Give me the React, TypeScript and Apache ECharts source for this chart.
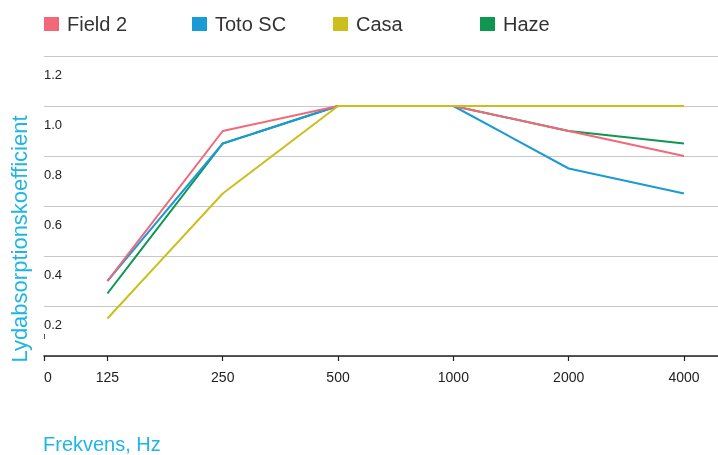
import React, { useEffect, useRef } from "react";
import * as echarts from "echarts";

const categories = ["125", "250", "500", "1000", "2000", "4000"];
const xTickLabels = ["0", "125", "250", "500", "1000", "2000", "4000"];
const yTickValues = [0.2, 0.4, 0.6, 0.8, 1.0, 1.2];

const field2 = [0.3, 0.9, 1.0, 1.0, 0.9, 0.8];
const totoSC = [0.3, 0.85, 1.0, 1.0, 0.75, 0.65];
const casa = [0.15, 0.65, 1.0, 1.0, 1.0, 1.0];
const haze = [0.25, 0.85, 1.0, 1.0, 0.9, 0.85];

const seriesNames = ["Field 2", "Toto SC", "Casa", "Haze"];
const seriesColors = ["#f26878", "#1a9ad6", "#ccbf1c", "#0f9650"];
const seriesValues = [field2, totoSC, casa, haze];
const seriesZ = [4, 3, 5, 2];
const legendLefts = [44, 192, 333, 480];

const FONT = "'Liberation Sans', Arial, Helvetica, sans-serif";
const ZERO_POS = -0.55;

export default function App() {
  const ref = useRef<HTMLDivElement>(null);
  useEffect(() => {
    if (!ref.current) return;
    const chart = echarts.init(ref.current, undefined, { renderer: "svg" });
    const xTickPositions = [ZERO_POS, ...categories.map((_, i) => i)];
    const option: any = {
      animation: false,
      textStyle: { fontFamily: FONT },
      grid: { left: 44, right: 0, top: 56, bottom: 99, containLabel: false },
      legend: seriesNames.map((name, i) => ({
        data: [name],
        left: legendLefts[i],
        top: 14,
        padding: 0,
        icon: "rect",
        itemWidth: 15,
        itemHeight: 14,
        selectedMode: false,
        textStyle: {
          fontFamily: FONT,
          fontSize: 20,
          color: "#333",
          padding: [0, 0, 0, 3],
        },
      })),
      xAxis: {
        type: "value",
        min: ZERO_POS,
        max: 5.295,
        splitLine: { show: false },
        axisLine: { show: true, lineStyle: { color: "#222", width: 1.6 } },
        axisTick: {
          show: true,
          length: 5,
          customValues: xTickPositions,
          lineStyle: { color: "#222", width: 1.2 },
        },
        axisLabel: {
          customValues: xTickPositions,
          fontSize: 14,
          color: "#222",
          margin: 14,
          alignMinLabel: "left",
          formatter: (v: number) => {
            if (v < 0) return xTickLabels[0];
            return xTickLabels[Math.round(v) + 1];
          },
        },
      },
      yAxis: {
        type: "value",
        min: 0,
        max: 1.2,
        interval: 0.2,
        axisLine: { show: false },
        axisTick: { show: false },
        splitLine: { show: true, lineStyle: { color: "#c8c8c8", width: 1 } },
        axisLabel: {
          inside: true,
          showMinLabel: false,
          margin: 0,
          align: "left",
          verticalAlign: "top",
          padding: [12, 0, 0, 0],
          fontSize: 13,
          color: "#222",
          formatter: (v: number) =>
            yTickValues.some((t) => Math.abs(t - v) < 1e-6) ? v.toFixed(1) : "",
        },
      },
      graphic: [
        {
          type: "text",
          x: 19,
          y: 239,
          rotation: Math.PI / 2,
          style: {
            text: "Lydabsorptionskoefficient",
            fill: "#1fb6e4",
            font: `22px ${FONT}`,
            textAlign: "center",
            textVerticalAlign: "middle",
          },
        },
        {
          type: "text",
          left: 43,
          top: 434,
          style: {
            text: "Frekvens, Hz",
            fill: "#1fb6e4",
            font: `20px ${FONT}`,
          },
        },
        {
          type: "line",
          shape: { x1: 44.5, y1: 334, x2: 44.5, y2: 339 },
          style: { stroke: "#555", lineWidth: 1 },
        },
      ],
      series: seriesNames.map((name, i) => ({
        name,
        type: "line",
        z: seriesZ[i],
        showSymbol: false,
        symbol: "none",
        color: seriesColors[i],
        lineStyle: { width: 2, color: seriesColors[i] },
        data: seriesValues[i].map((v, j) => [j, v]),
      })),
    };
    chart.setOption(option);
    return () => chart.dispose();
  }, []);
  return (
    <div
      ref={ref}
      style={{ position: "fixed", left: 0, top: 0, width: 718, height: 455 }}
    />
  );
}
